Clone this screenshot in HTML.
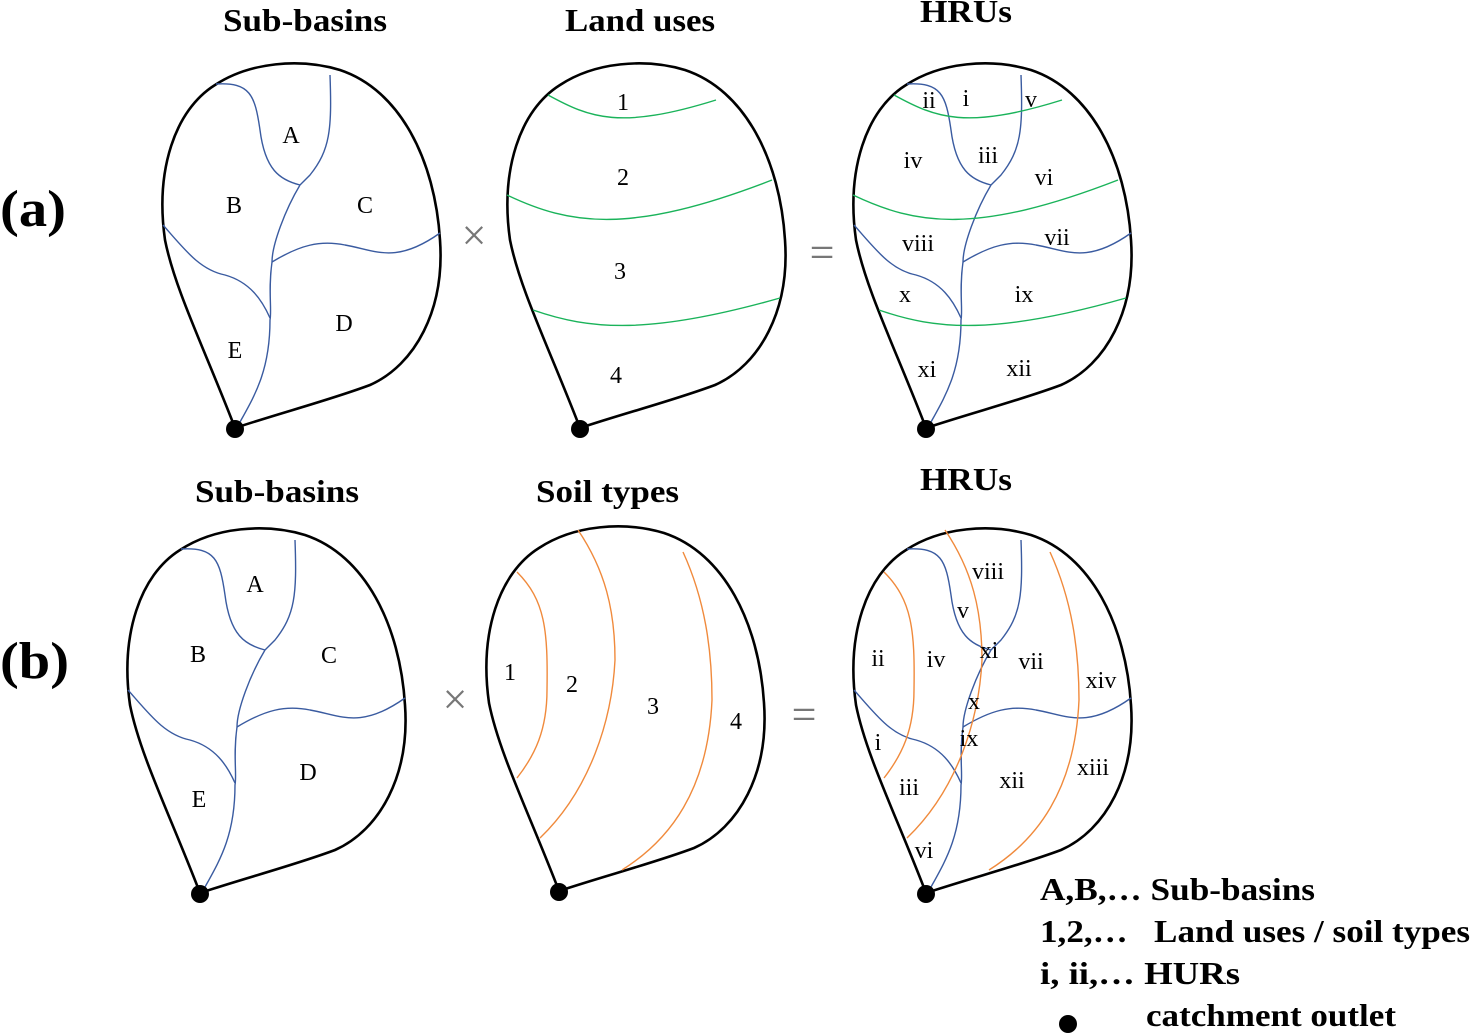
<!DOCTYPE html>
<html><head><meta charset="utf-8"><style>
html,body{margin:0;padding:0;background:#fff;}
svg{display:block;}
text{font-family:"Liberation Serif","Times New Roman",serif;fill:#000;}
.t{font-size:32px;font-weight:bold;}
.l{font-size:24px;}
.lg{font-size:32px;font-weight:bold;}
.ab{font-size:52px;font-weight:bold;}
</style></head><body>
<svg width="1471" height="1035" viewBox="0 0 1471 1035" xmlns="http://www.w3.org/2000/svg">
<defs>
<path id="sh" d="M235,428 C205,350 175,290 165,240 C155,170 175,110 215,85 C250,62 300,58 340,70 C400,90 435,160 440,240 C445,310 415,365 370,385 C330,400 280,413 235,428 Z" fill="none" stroke="#000" stroke-width="2.6"/>
<g id="sb" fill="none" stroke="#3a5ba0" stroke-width="1.4">
<path d="M216,84 C250,82 255,95 260,130 C265,170 280,180 300,185"/>
<path d="M330,75 C332,130 330,150 310,175 L300,185"/>
<path d="M300,185 C285,210 272,245 272,262 C268,290 272,310 270,320 C270,370 255,395 240,422"/>
<path d="M272,262 C300,245 320,240 345,245 C375,250 395,265 440,233"/>
<path d="M163,225 C185,250 200,270 225,275 C250,282 262,300 270,318"/>
</g>
<g id="lu" fill="none" stroke="#1ab35a" stroke-width="1.4">
<path d="M548,95 C590,118 620,130 716,100"/>
<path d="M507,195 C570,225 630,235 772,180"/>
<path d="M533,310 C590,330 650,335 780,298"/>
</g>
<g id="so" fill="none" stroke="#f08a3c" stroke-width="1.4">
<path d="M517,572 C545,600 548,630 547,690 C547,730 535,755 517,778"/>
<path d="M578,530 C605,570 615,610 615,660 C612,720 590,790 540,838"/>
<path d="M683,552 C705,600 712,650 712,700 C708,790 670,840 622,870"/>
</g>
</defs>

<text class="t" x="223" y="31" textLength="164" lengthAdjust="spacingAndGlyphs">Sub-basins</text>
<text class="t" x="565" y="31" textLength="150" lengthAdjust="spacingAndGlyphs">Land uses</text>
<text class="t" x="920" y="22" textLength="92" lengthAdjust="spacingAndGlyphs">HRUs</text>
<text class="ab" x="0" y="226" textLength="66" lengthAdjust="spacingAndGlyphs">(a)</text>

<use href="#sh"/><use href="#sb"/>
<use href="#sh" transform="translate(345,0)"/><use href="#lu"/>
<use href="#sh" transform="translate(691,0)"/><use href="#sb" transform="translate(691,0)"/><use href="#lu" transform="translate(346,0)"/>
<circle cx="235" cy="429" r="9"/><circle cx="580" cy="429" r="9"/><circle cx="926" cy="429" r="9"/>

<text class="l" x="291" y="143" text-anchor="middle">A</text>
<text class="l" x="234" y="213" text-anchor="middle">B</text>
<text class="l" x="365" y="213" text-anchor="middle">C</text>
<text class="l" x="344" y="331" text-anchor="middle">D</text>
<text class="l" x="235" y="358" text-anchor="middle">E</text>
<text class="l" x="623" y="110" text-anchor="middle">1</text>
<text class="l" x="623" y="185" text-anchor="middle">2</text>
<text class="l" x="620" y="279" text-anchor="middle">3</text>
<text class="l" x="616" y="383" text-anchor="middle">4</text>
<text x="474" y="250" font-size="44" style="fill:#777" text-anchor="middle">×</text>
<text x="822" y="267" font-size="44" style="fill:#777" text-anchor="middle">=</text>
<g class="l" text-anchor="middle">
<text x="929" y="108">ii</text><text x="966" y="106">i</text><text x="1031" y="107">v</text>
<text x="913" y="168">iv</text><text x="988" y="163">iii</text><text x="1044" y="185">vi</text>
<text x="918" y="251">viii</text><text x="1057" y="245">vii</text>
<text x="905" y="302">x</text><text x="1024" y="302">ix</text>
<text x="927" y="377">xi</text><text x="1019" y="376">xii</text>
</g>

<text class="t" x="195" y="502" textLength="164" lengthAdjust="spacingAndGlyphs">Sub-basins</text>
<text class="t" x="536" y="502" textLength="143" lengthAdjust="spacingAndGlyphs">Soil types</text>
<text class="t" x="920" y="490" textLength="92" lengthAdjust="spacingAndGlyphs">HRUs</text>
<text class="ab" x="0" y="678" textLength="69" lengthAdjust="spacingAndGlyphs">(b)</text>

<use href="#sh" transform="translate(-35,465)"/><use href="#sb" transform="translate(-35,465)"/>
<use href="#sh" transform="translate(324,463)"/><use href="#so"/>
<use href="#sh" transform="translate(691,465)"/><use href="#sb" transform="translate(691,465)"/><use href="#so" transform="translate(367,0)"/>
<circle cx="200" cy="894" r="9"/><circle cx="559" cy="892" r="9"/><circle cx="926" cy="894" r="9"/>

<g class="l" text-anchor="middle">
<text x="255" y="592">A</text><text x="198" y="662">B</text><text x="329" y="663">C</text>
<text x="308" y="780">D</text><text x="199" y="807">E</text>
<text x="510" y="680">1</text><text x="572" y="692">2</text><text x="653" y="714">3</text><text x="736" y="729">4</text>
<text x="988" y="579">viii</text><text x="963" y="618">v</text><text x="989" y="658">xi</text>
<text x="878" y="666">ii</text><text x="936" y="667">iv</text><text x="1031" y="669">vii</text><text x="1101" y="688">xiv</text>
<text x="974" y="709">x</text><text x="969" y="746">ix</text><text x="878" y="750">i</text>
<text x="909" y="795">iii</text><text x="1012" y="788">xii</text><text x="1093" y="775">xiii</text>
<text x="924" y="858">vi</text>
</g>
<text x="455" y="714" font-size="44" style="fill:#777" text-anchor="middle">×</text>
<text x="804" y="729" font-size="44" style="fill:#777" text-anchor="middle">=</text>

<text class="lg" x="1040" y="900" textLength="275" lengthAdjust="spacingAndGlyphs">A,B,… Sub-basins</text>
<text class="lg" x="1040" y="942" textLength="430" lengthAdjust="spacingAndGlyphs">1,2,…&#160;&#160; Land uses / soil types</text>
<text class="lg" x="1040" y="984" textLength="200" lengthAdjust="spacingAndGlyphs">i, ii,… HURs</text>
<circle cx="1068" cy="1024" r="9"/>
<text class="lg" x="1146" y="1026" textLength="250" lengthAdjust="spacingAndGlyphs">catchment outlet</text>
</svg>
</body></html>
